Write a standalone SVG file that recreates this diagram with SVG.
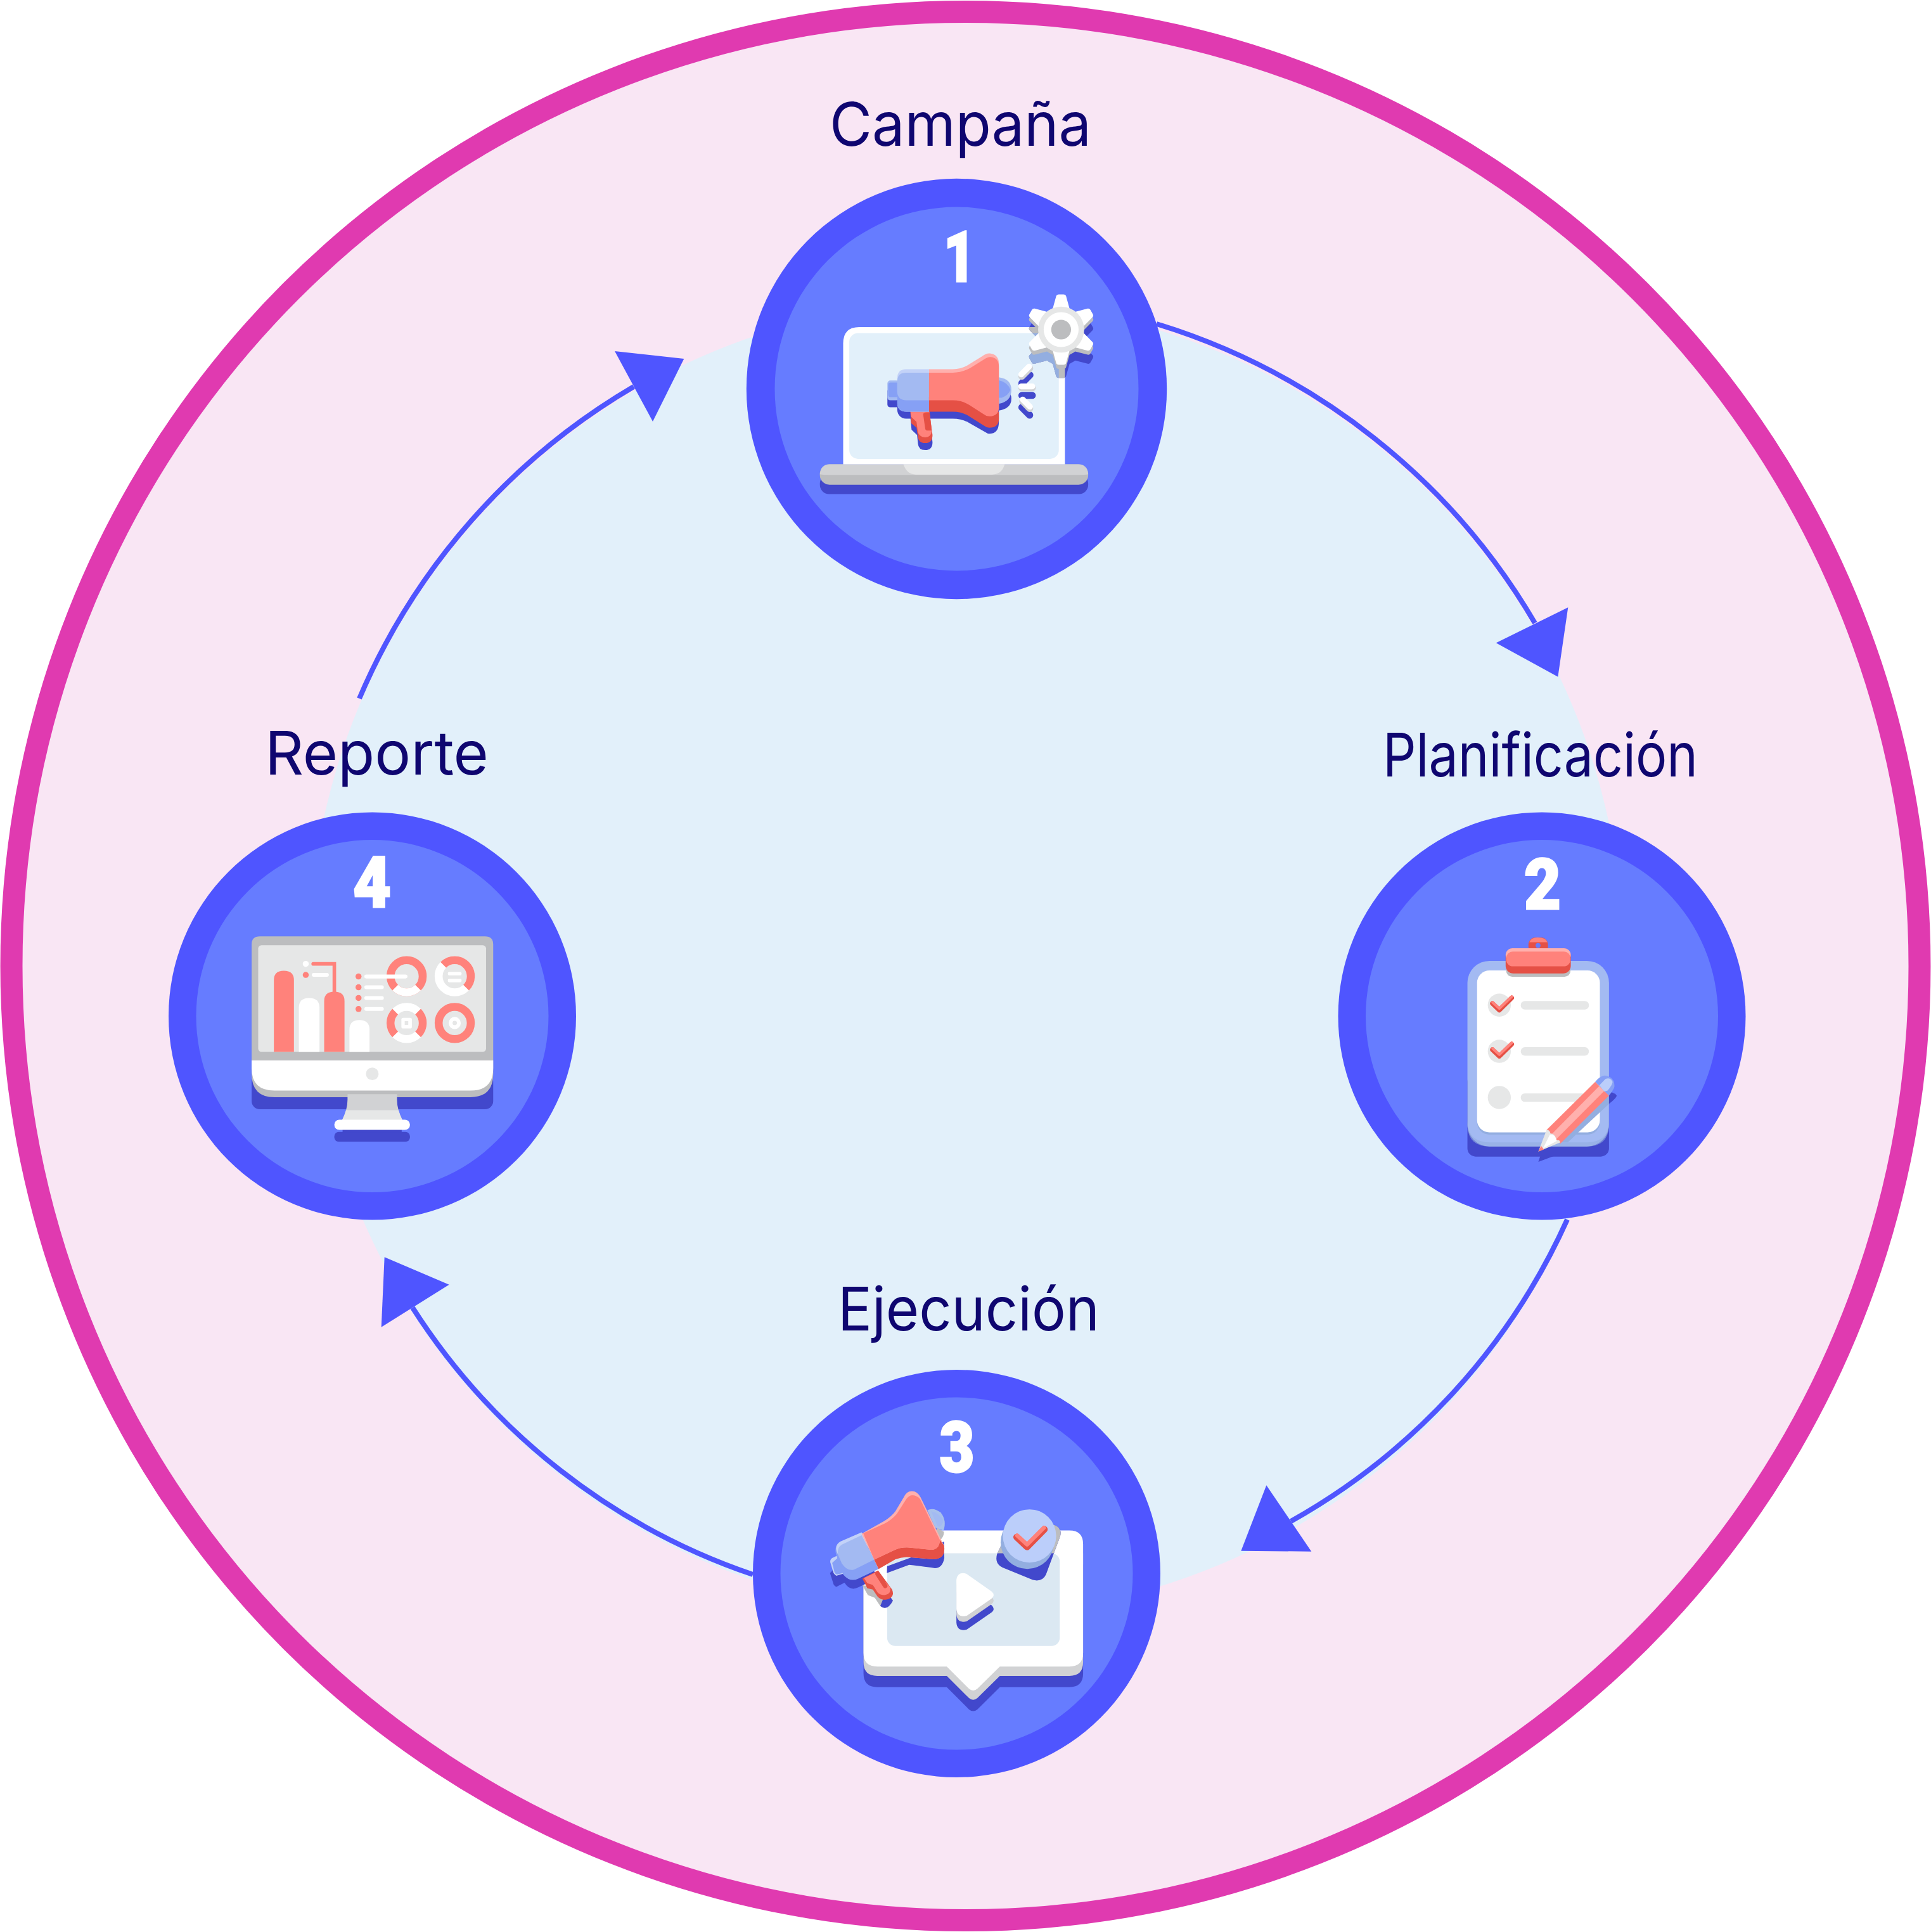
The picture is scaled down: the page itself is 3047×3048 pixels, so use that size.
<svg xmlns="http://www.w3.org/2000/svg" xmlns:xlink="http://www.w3.org/1999/xlink" width="3047" height="3048" viewBox="0 0 3047 3048">
<style>
.ring{fill:#4f55ff}.in{fill:#667cff}
.sh{fill:#4248cc}.co{fill:#ff827b}.rd{fill:#e55045}.pk{fill:#ffb0ad}
.g1{fill:#bcbdbf}.g2{fill:#d1d2d4}.g3{fill:#e6e7e7}.w{fill:#fff}
.p1{fill:#a3baf2}.p2{fill:#86a0f5}.p3{fill:#c3d2f8}.p4{fill:#93aee0}.p5{fill:#bbcefa}
.scr{fill:#e2f0fa}
.line{fill:none;stroke:#4f55ff;stroke-width:8}
.head{fill:#4f55ff}
.label{font-family:"Inter","Lato",sans-serif;font-weight:400;font-size:95px;fill:#0f0670;font-variant-ligatures:none}
.num{font-family:"Roboto","Liberation Sans",sans-serif;font-weight:900;font-size:112px;fill:#fff;text-anchor:middle;stroke:#fff;stroke-width:3}
</style>
<defs>
<g id="gear">
<g id="lobe"><path id="lb" d="M-30-68L-17-115Q-15-121-8-121H8Q15-121 17-115L30-68Z"/></g>
<use xlink:href="#lb" href="#lb" transform="rotate(60)"/>
<use xlink:href="#lb" href="#lb" transform="rotate(120)"/>
<use xlink:href="#lb" href="#lb" transform="rotate(180)"/>
<use xlink:href="#lb" href="#lb" transform="rotate(240)"/>
<use xlink:href="#lb" href="#lb" transform="rotate(300)"/>
<circle r="78"/>
</g>
<path id="bubble" d="M494 610H1193Q1243 610 1243 660V1055Q1243 1105 1193 1105H940L858 1186Q843 1198 828 1186L747 1105H494Q444 1105 444 1055V660Q444 610 494 610Z"/>
<path id="play" d="M782 790Q785 758 818 767L910 832Q925 845 910 858L820 920Q785 930 782 895Z"/>
<path id="badge" d="M975 600L1140 590Q1170 605 1158 635L1108 770Q1095 798 1060 790L950 745Q920 730 930 695Z"/>
<clipPath id="scr1"><rect x="414" y="600" width="720" height="432"/></clipPath>
<clipPath id="frame1"><rect x="393" y="579" width="762" height="472"/></clipPath>
<clipPath id="badgeUp"><rect x="900" y="500" width="300" height="193"/></clipPath>
<clipPath id="standLow"><rect x="640" y="1133" width="280" height="60"/></clipPath>
</defs>

<g id="background">
<circle cx="1523.5" cy="1524" r="1505.5" fill="#f9e6f4" stroke="#e03ab0" stroke-width="35"/>
<circle cx="1524" cy="1512" r="1037" fill="#e2f0fa"/>
</g>

<g id="connectors">
<path class="line" d="M1825 511A1046 1046 0 0 1 2422 983"/>
<polygon class="head" points="2474.3,958.3 2458.3,1067.7 2360.7,1014.3"/>
<path class="line" d="M2473 1924A1030 1030 0 0 1 2037 2400"/>
<polygon class="head" points="1998.3,2343.3 2069.3,2447.7 1958.3,2446.7"/>
<path class="line" d="M1188 2484A1030 1030 0 0 1 651 2063"/>
<polygon class="head" points="606.7,1983.3 708.7,2026.7 601.7,2093.7"/>
<path class="line" d="M567 1102A1045 1045 0 0 1 1000 610"/>
<polygon class="head" points="970,554 1079.3,566 1030,665"/>
</g>

<g id="node-1">
<circle class="ring" cx="1509.5" cy="613.5" r="331.7"/>
<circle class="in" cx="1509.5" cy="613.5" r="287"/>
<text class="label" x="1309" y="230" textLength="413" lengthAdjust="spacingAndGlyphs">Campaña</text>
<text class="num" x="1514" y="444" textLength="50" lengthAdjust="spacingAndGlyphs">1</text>
<g transform="translate(1150 250) scale(.4592)">
<rect class="sh" x="313" y="1085" width="922" height="68" rx="32"/>
<rect class="g1" x="313" y="1051" width="922" height="70" rx="33"/>
<path class="g2" d="M313 1085Q316 1051 347 1051H1201Q1232 1051 1235 1085Q1225 1087 1201 1087H347Q325 1087 313 1085Z"/>
<path class="g3" d="M600 1051H948Q938 1086 905 1086H642Q612 1086 600 1051Z"/>
<path class="w" d="M393 1051V635Q393 579 449 579H1155V1051Z"/>
<rect class="scr" x="414" y="600" width="720" height="432" rx="30"/>
<g transform="translate(1142 588)">
<use xlink:href="#gear" href="#gear" class="sh" y="45"/>
</g>
<g clip-path="url(#frame1)"><g transform="translate(1142 588)"><use xlink:href="#gear" href="#gear" class="g1" y="45"/></g></g>
<g clip-path="url(#scr1)"><g transform="translate(1142 588)"><use xlink:href="#gear" href="#gear" class="p4" y="45"/></g></g>
<g transform="translate(1142 588)">
<use xlink:href="#gear" href="#gear" class="g1" y="14"/>
<use xlink:href="#gear" href="#gear" class="w"/>
<circle class="g3" r="79"/><circle class="w" r="60"/><circle class="g1" r="34"/>
</g>
<!-- megaphone shadow -->
<g class="sh">
<rect x="545" y="790" width="40" height="65" rx="10"/>
<rect x="579" y="780" width="120" height="114" rx="30"/>
<path d="M928 790Q971 795 971 825Q971 860 928 866Z"/>
<path d="M688 780H770Q800 780 825 790L880 830H928V905Q928 950 890 945L825 908Q800 894 770 894H688Z"/>
<path d="M623 880H690L700 975Q700 1002 675 1002Q652 1002 650 980L647 950L628 932Z"/>
</g>
<!-- tail and dome -->
<rect class="p1" x="545" y="763" width="40" height="68" rx="10"/>
<rect class="p2" x="548" y="770" width="36" height="50" rx="8"/>
<path class="p1" d="M928 752Q971 758 971 795Q971 835 928 843Z"/>
<path class="p2" d="M928 762Q958 768 968 795Q960 815 938 822H928Z"/>
<!-- handle -->
<path class="rd" d="M623 860H688L700 950Q700 978 675 978Q650 978 649 950L645 925L627 910Z"/>
<path class="co" d="M623 860H688L697 935Q697 958 675 958Q652 958 649 935L645 905L627 888Z"/>
<path class="rd" d="M668 880Q668 872 680 872H690L697 935H685Q676 935 675 928Z"/>
<!-- body -->
<path class="p3" d="M688 724H610Q579 724 579 755V840Q579 870 610 870H688Z"/>
<path class="p2" d="M688 760H579V840Q579 870 610 870H688Z"/>
<path class="p1" d="M688 736H610Q579 736 579 765V800Q579 831 610 831H688Z"/>
<!-- horn -->
<path class="pk" d="M688 724H770Q800 724 825 708L870 680Q885 668 900 670Q928 675 928 705V860Q900 890 875 878L825 846Q800 831 770 831H688Z"/>
<path class="rd" d="M688 820H770Q800 820 825 836L880 870H928V895Q928 925 895 925Q885 925 875 917L825 885Q800 870 770 870H688Z"/>
<path class="co" d="M688 736H770Q800 736 830 720L878 690Q890 681 900 682Q928 685 928 715V860Q925 885 895 886Q885 886 875 878L825 846Q800 831 770 831H688Z"/>
<!-- sound lines -->
<g fill="none" stroke-linecap="round" stroke-width="24">
<g stroke="#4248cc"><path d="M1007 772L1035 744M1007 814H1043M1007 855L1034 882"/></g>
<g stroke="#d1d2d4"><path d="M1007 748L1034 721M1007 788H1043M1010 834L1034 859"/></g>
</g>
<g fill="none" stroke-linecap="round" stroke-width="20">
<g stroke="#fff"><path d="M1005 742L1032 715M1005 783H1043M1010 828L1035 853"/></g>
</g>
</g>
</g>

<g id="node-2">
<circle class="ring" cx="2433" cy="1603" r="321.5"/>
<circle class="in" cx="2433" cy="1603" r="278"/>
<text class="label" x="2182" y="1225" textLength="497" lengthAdjust="spacingAndGlyphs">Planificación</text>
<text class="num" x="2434" y="1434" textLength="58" lengthAdjust="spacingAndGlyphs">2</text>
<g transform="translate(2090 1260) scale(.4337)">
<rect class="sh" x="520" y="1000" width="515" height="302" rx="30"/>
<rect class="p1" x="520" y="590" width="515" height="675" rx="80"/>
<path class="p4" d="M520 1170Q520 1250 600 1250H955Q1035 1250 1035 1170V1185Q1035 1265 955 1265H600Q520 1265 520 1185Z" opacity=".6"/>
<rect class="p4" x="555" y="625" width="447" height="597" rx="45"/>
<rect class="w" x="555" y="625" width="447" height="589" rx="45"/>
<rect class="g1" x="661" y="600" width="234" height="48" rx="22"/>
<rect class="rd" x="742" y="505" width="71" height="60" rx="26"/>
<path class="co" d="M745 522Q752 505 775 505Q805 505 811 522Z"/>
<circle class="in" cx="777" cy="534" r="9"/>
<rect class="rd" x="659" y="544" width="237" height="92" rx="28"/>
<rect class="pk" x="659" y="544" width="237" height="50" rx="25"/>
<rect class="co" x="661" y="556" width="234" height="54" rx="25"/>
<circle class="g3" cx="636" cy="751" r="42"/>
<circle class="g3" cx="636" cy="919" r="42"/>
<circle class="g3" cx="636" cy="1087" r="42"/>
<rect class="g3" x="714" y="736" width="248" height="31" rx="15"/>
<rect class="g3" x="714" y="904" width="248" height="31" rx="15"/>
<rect class="g3" x="714" y="1072" width="248" height="31" rx="15"/>
<g fill="none" stroke-linecap="round" stroke-linejoin="round">
<path stroke="#e55045" stroke-width="17" d="M611 745L636 769L681 725M611 913L636 937L681 893"/>
<path stroke="#ff827b" stroke-width="10" d="M612 741L636 763L681 720M612 909L636 931L681 888"/>
</g>
<path class="g1" d="M1002 1105V1132L918 1214H890Z"/>
<path class="p4" d="M1035 1080V1110L885 1250H860L1002 1105Z"/>
<path class="sh" d="M1035 1065Q1060 1072 1063 1080Q1063 1088 1035 1110Z"/>
<path class="sh" d="M778 1321L785 1300H835Z"/>
<path class="co" d="M808 1205L985 1030L1035 1080L858 1255Z"/>
<path class="pk" d="M825 1222L1000 1045L1018 1063L842 1240Z"/>
<path class="p2" d="M985 1030Q1000 1010 1020 1007Q1055 1012 1055 1045Q1055 1055 1035 1080Z"/>
<path class="p5" d="M1000 1043L1022 1020Q1040 1012 1048 1030Q1048 1040 1030 1062L1018 1065Z"/>
<path class="g3" d="M778 1284L808 1205Q820 1205 822 1218Q838 1216 845 1243Q855 1240 858 1250Z"/>
<path class="w" d="M795 1272L820 1222Q838 1218 845 1245Z"/>
<path class="co" d="M778 1284L788 1263L798 1276Z"/>
</g>
</g>

<g id="node-3">
<circle class="ring" cx="1509.5" cy="2482.5" r="321.5"/>
<circle class="in" cx="1509.5" cy="2482.5" r="278"/>
<text class="label" x="1322" y="2099" textLength="413" lengthAdjust="spacingAndGlyphs">Ejecución</text>
<text class="num" x="1510" y="2322" textLength="55" lengthAdjust="spacingAndGlyphs">3</text>
<g transform="translate(1170 2150) scale(.4337)">
<use xlink:href="#bubble" href="#bubble" class="sh" y="75"/>
<use xlink:href="#bubble" href="#bubble" class="g2" y="34"/>
<use xlink:href="#bubble" href="#bubble" class="w"/>
<rect x="530" y="693" width="628" height="337" rx="30" fill="#dbe8f2"/>
<use xlink:href="#play" href="#play" class="sh" y="50"/>
<use xlink:href="#play" href="#play" class="g2" y="20"/>
<use xlink:href="#play" href="#play" class="w"/>
<use xlink:href="#badge" href="#badge" class="sh"/>
<g clip-path="url(#badgeUp)"><use xlink:href="#badge" href="#badge" class="g1"/></g>
<circle class="p4" cx="1040" cy="653" r="97"/>
<circle class="p5" cx="1048" cy="630" r="97"/>
<g fill="none" stroke-linecap="round" stroke-linejoin="round">
<path stroke="#e55045" stroke-width="24" d="M1001 634L1039 670L1102 606"/>
<path stroke="#ff827b" stroke-width="15" d="M1003 628L1039 661L1100 600"/>
</g>
<!-- megaphone shadow -->
<path class="g1" d="M440 810L460 845L485 855L505 885Q530 905 551 865L520 815Z"/>
<g class="sh">
<path d="M505 885Q530 905 551 865L540 850L515 860Z"/>
<path d="M322 765L352 735L385 795L345 815Q338 812 335 805Z"/>
<path d="M345 730L437 690L499 782L425 817Q395 832 375 800Z"/>
<path d="M529 765L610 735Q640 738 690 745Q730 755 738 710L737 650L640 700L530 740Z"/>
</g>
<!-- dome -->
<path d="M676 536Q700 525 725 545Q748 575 735 610L705 600Z" fill="#a9c1ec"/>
<path d="M690 540Q720 545 735 575Q725 605 712 592Z" class="p1"/>
<path class="g1" d="M712 600L737 615Q735 635 725 642L705 620Z"/>
<!-- tail -->
<path class="p3" d="M352 700L378 765L345 775Q340 772 335 765L323 725Q322 715 330 710Z"/>
<path class="p2" d="M352 708L378 762L348 770Q342 770 338 760L330 728Z"/>
<!-- handle -->
<path class="rd" d="M440 785L497 755L548 825Q560 855 525 862Q505 862 495 850L478 825L458 820Z"/>
<path class="co" d="M445 783L490 762L540 815Q548 840 520 845Q505 845 495 835L478 808L458 802Z"/>
<path d="M495 768L523 812" fill="none" stroke="#e55045" stroke-width="16" stroke-linecap="round"/>
<!-- body -->
<path class="p2" d="M437 617L499 750L425 785Q395 800 370 770L345 700Q335 665 360 650Z"/>
<path class="p3" d="M437 617L460 667L365 710L350 695Q335 665 360 650Z"/>
<path class="p1" d="M437 627L483 716L410 752Q385 760 365 730L352 700Q345 672 368 660Z"/>
<!-- horn -->
<path class="pk" d="M437 622L520 575Q545 560 560 540L590 490Q600 467 620 467Q640 467 652 490L737 665Q745 710 700 715L610 707Q585 705 560 715L499 750Z"/>
<path class="rd" d="M483 716L555 682Q580 670 610 672L690 680Q720 680 722 645L737 665Q745 712 700 715L610 707Q585 705 560 715L499 750Z"/>
<path class="co" d="M443 620L520 585Q545 573 565 550L600 495Q615 475 635 485Q648 490 652 500L722 645Q720 680 690 680L610 672Q580 670 555 682L483 716Z"/>
</g>
</g>

<g id="node-4">
<circle class="ring" cx="587.5" cy="1603" r="321.5"/>
<circle class="in" cx="587.5" cy="1603" r="278"/>
<text class="label" x="418" y="1222" textLength="353" lengthAdjust="spacingAndGlyphs">Reporte</text>
<text class="num" x="587" y="1431" textLength="60" lengthAdjust="spacingAndGlyphs">4</text>
<g transform="translate(250 1260) scale(.4337)">
<rect class="sh" x="339" y="1000" width="879" height="130" rx="30"/>
<path class="g1" d="M369 501H1188Q1218 501 1218 531V1000Q1218 1086 1135 1086H422Q339 1086 339 1000V531Q339 501 369 501Z"/>
<path class="w" d="M339 952H1218V980Q1218 1062 1135 1062H422Q339 1062 339 980Z"/>
<circle class="g3" cx="778" cy="1001" r="23"/>
<rect class="g3" x="363" y="533" width="829" height="388" rx="12"/>
<path class="co" d="M420 921V660Q420 626 456 626Q493 626 493 660V921Z"/>
<path class="w" d="M511 921V760Q511 725 548 725Q586 725 586 760V921Z"/>
<path class="co" d="M603 921V736Q603 702 640 702Q677 702 677 736V921Z"/>
<path class="w" d="M695 921V840Q695 805 731 805Q768 805 768 840V921Z"/>
<path d="M563 601H640V705" fill="none" stroke="#ff827b" stroke-width="13" stroke-linecap="round"/>
<circle class="w" cx="536" cy="601" r="11"/>
<circle class="co" cx="536" cy="641" r="11"/>
<rect class="w" x="558" y="634" width="62" height="14" rx="7"/>
<g fill="none" stroke-width="29">
<g transform="translate(903 646)"><circle r="58.5" stroke="#ff827b"/><path stroke="#fff" d="M41.4 41.4A58.5 58.5 0 0 1-41.4 41.4"/></g>
<g transform="translate(1078 646)"><circle r="58.5" stroke="#fff"/><path stroke="#ff827b" d="M-41.4-41.4A58.5 58.5 0 1 1 41.4 41.4"/></g>
<g transform="translate(903 816)"><circle r="58.5" stroke="#fff"/><path stroke="#ff827b" d="M-41.4-41.4A58.5 58.5 0 0 0-41.4 41.4M41.4-41.4A58.5 58.5 0 0 1 41.4 41.4"/></g>
<circle cx="1078" cy="816" r="58.5" stroke="#ff827b"/>
</g>
<rect class="w" x="1053" y="630" width="50" height="13" rx="6"/>
<rect class="w" x="1053" y="655" width="50" height="13" rx="6"/>
<rect class="w" x="884" y="797" width="38" height="39" rx="6"/>
<rect class="g3" x="896" y="809" width="13" height="14"/>
<circle class="w" cx="1078" cy="816" r="22"/>
<circle class="g3" cx="1078" cy="816" r="8"/>
<circle class="co" cx="728" cy="647" r="11"/>
<circle class="co" cx="728" cy="686" r="11"/>
<circle class="co" cx="728" cy="725" r="11"/>
<circle class="co" cx="728" cy="765" r="11"/>
<rect class="w" x="749" y="640" width="157" height="14" rx="7"/>
<rect class="w" x="749" y="679" width="71" height="14" rx="7"/>
<rect class="w" x="749" y="718" width="71" height="14" rx="7"/>
<rect class="w" x="749" y="758" width="71" height="14" rx="7"/>
<rect class="sh" x="640" y="1212" width="275" height="36" rx="16"/>
<rect class="sh" x="670" y="1200" width="215" height="15"/>
<path class="g2" d="M688 1075H868V1095Q868 1130 888 1170H668Q688 1130 688 1095Z"/>
<g clip-path="url(#standLow)"><path class="g3" d="M688 1075H868V1095Q868 1130 888 1170H668Q688 1130 688 1095Z"/></g>
<rect class="w" x="640" y="1168" width="275" height="37" rx="18"/>
</g>
</g>
</svg>
